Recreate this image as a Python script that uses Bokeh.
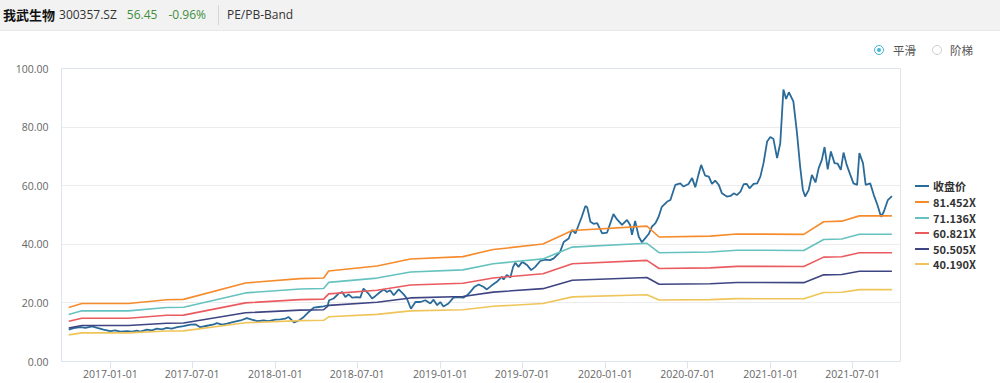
import pandas as pd
from bokeh.plotting import figure
from bokeh.models import (Div, FixedTicker, DatetimeTickFormatter, PrintfTickFormatter, Range1d)
from bokeh.layouts import column, row
from bokeh.embed import file_html
from bokeh.resources import INLINE

# ---------------- data ----------------
close_dates = [
    "2016-10-01", "2016-10-12", "2016-10-27", "2016-11-07", "2016-11-22", "2016-12-03", "2016-12-17",
    "2017-01-01", "2017-01-12", "2017-01-23", "2017-02-07", "2017-02-18", "2017-03-01", "2017-03-08",
    "2017-03-23", "2017-04-03", "2017-04-14", "2017-04-25", "2017-05-06", "2017-05-17", "2017-05-29",
    "2017-06-12", "2017-06-27", "2017-07-08", "2017-07-19", "2017-08-03", "2017-08-18", "2017-08-25",
    "2017-09-05", "2017-09-16", "2017-10-01", "2017-10-16", "2017-10-30", "2017-11-10", "2017-11-22",
    "2017-12-06", "2017-12-17", "2018-01-01", "2018-01-12", "2018-01-23", "2018-01-30", "2018-02-07",
    "2018-02-12", "2018-02-22", "2018-03-05", "2018-03-16", "2018-03-27", "2018-04-07", "2018-04-18",
    "2018-04-27", "2018-04-30", "2018-05-10", "2018-05-21", "2018-05-29", "2018-06-05", "2018-06-12",
    "2018-06-20", "2018-07-01", "2018-07-08", "2018-07-15", "2018-07-26", "2018-08-03", "2018-08-10",
    "2018-08-21", "2018-08-29", "2018-09-05", "2018-09-12", "2018-09-20", "2018-10-01", "2018-10-12",
    "2018-10-19", "2018-10-28", "2018-11-07", "2018-11-18", "2018-11-29", "2018-12-10", "2018-12-17",
    "2018-12-25", "2019-01-01", "2019-01-08", "2019-01-19", "2019-01-30", "2019-02-10", "2019-02-21",
    "2019-03-01", "2019-03-08", "2019-03-17", "2019-03-27", "2019-04-07", "2019-04-14", "2019-04-25",
    "2019-05-06", "2019-05-17", "2019-05-21", "2019-05-28", "2019-06-05", "2019-06-11", "2019-06-16",
    "2019-06-23", "2019-07-01", "2019-07-12", "2019-07-21", "2019-07-30", "2019-08-10", "2019-08-21",
    "2019-09-01", "2019-09-09", "2019-09-16", "2019-09-23", "2019-10-01", "2019-10-12", "2019-10-19",
    "2019-10-27", "2019-11-03", "2019-11-10", "2019-11-18", "2019-11-22", "2019-11-29", "2019-12-06",
    "2019-12-14", "2019-12-25", "2020-01-05", "2020-01-12", "2020-01-19", "2020-01-27", "2020-02-07",
    "2020-02-18", "2020-02-25", "2020-02-29", "2020-03-07", "2020-03-15", "2020-03-22", "2020-03-29",
    "2020-04-06", "2020-04-13", "2020-04-21", "2020-04-28", "2020-05-05", "2020-05-17", "2020-05-24",
    "2020-06-04", "2020-06-15", "2020-06-22", "2020-07-03", "2020-07-11", "2020-07-18", "2020-07-25",
    "2020-07-31", "2020-08-09", "2020-08-17", "2020-08-24", "2020-08-31", "2020-09-08", "2020-09-15",
    "2020-09-26", "2020-10-04", "2020-10-11", "2020-10-18", "2020-10-26", "2020-11-02", "2020-11-09",
    "2020-11-15", "2020-11-24", "2020-12-02", "2020-12-09", "2020-12-16", "2020-12-24", "2020-12-31",
    "2021-01-07", "2021-01-15", "2021-01-22", "2021-01-29", "2021-02-04", "2021-02-10", "2021-02-20",
    "2021-02-28", "2021-03-07", "2021-03-13", "2021-03-18", "2021-03-26", "2021-04-02", "2021-04-10",
    "2021-04-17", "2021-04-24", "2021-04-30", "2021-05-07", "2021-05-14", "2021-05-22", "2021-05-29",
    "2021-06-05", "2021-06-11", "2021-06-18", "2021-06-26", "2021-07-03", "2021-07-11", "2021-07-16",
    "2021-07-24", "2021-07-30", "2021-08-09", "2021-08-17", "2021-08-25", "2021-09-02", "2021-09-08",
    "2021-09-17", "2021-09-26",
]
close_values = [
    10.9, 11.4, 11.7, 11.5, 12.0, 11.5, 10.9,
    10.4, 10.6, 10.2, 10.4, 10.2, 10.5, 10.2,
    10.9, 10.6, 11.2, 11.0, 11.5, 11.2, 11.7,
    12.1, 12.6, 12.7, 11.7, 12.2, 12.7, 13.1,
    12.6, 12.9, 13.5, 14.0, 14.8, 14.3, 13.8,
    14.0, 13.8, 14.3, 14.4, 14.6, 15.2, 14.0,
    13.3, 14.0, 15.2, 16.9, 18.4, 18.6, 18.8,
    19.2, 20.9, 21.5, 23.2, 23.7, 22.0, 22.9,
    21.8, 22.0, 21.8, 24.9, 23.2, 21.5, 22.3,
    23.7, 24.6, 23.7, 24.3, 22.6, 24.6, 22.9,
    21.5, 18.0, 20.3, 20.3, 20.9, 19.8, 21.1,
    19.2, 20.3, 18.8, 19.8, 21.8, 22.0, 21.8,
    22.6, 23.7, 25.4, 26.3, 25.4, 24.6, 26.0,
    27.2, 28.9, 28.0, 29.5, 28.7, 32.3, 33.7,
    32.3, 34.0, 32.9, 31.2, 32.3, 34.3, 34.8,
    34.6, 35.2, 36.3, 37.4, 40.8, 42.0, 44.9,
    43.7, 46.6, 49.4, 53.1, 52.6, 47.7, 47.0,
    47.2, 43.7, 44.0, 47.2, 50.3, 48.5, 46.6,
    48.3, 46.6, 43.2, 48.0, 42.6, 40.7, 42.0,
    43.5, 46.0, 47.2, 49.4, 52.8, 54.6, 55.1,
    60.3, 60.8, 59.7, 60.6, 62.6, 59.5, 63.7,
    67.1, 63.4, 63.1, 60.6, 61.7, 60.3, 57.4,
    56.3, 56.5, 57.4, 56.8, 58.0, 60.5, 60.6,
    59.1, 60.6, 60.8, 63.1, 67.7, 75.1, 76.6,
    75.9, 69.4, 74.5, 92.8, 89.6, 91.9, 88.8,
    78.0, 66.5, 58.6, 56.3, 58.6, 63.7, 61.1,
    66.0, 68.8, 73.2, 65.6, 71.7, 67.7, 67.5,
    65.4, 71.3, 67.1, 63.7, 60.8, 60.3, 71.1,
    67.7, 60.3, 60.8, 56.8, 53.4, 49.4, 51.1,
    55.1, 56.45,
]

band_dates = [
    "2016-10-01", "2016-10-30", "2017-02-10", "2017-05-06", "2017-06-12", "2017-10-27",
    "2018-02-25", "2018-04-18", "2018-04-29", "2018-08-14", "2018-10-27", "2019-02-20",
    "2019-04-28", "2019-08-16", "2019-10-20", "2020-04-02", "2020-04-29", "2020-08-20",
    "2020-10-18", "2021-03-15", "2021-04-28", "2021-06-07", "2021-07-16", "2021-09-26",
]
band_81452 = [18.40, 19.80, 19.80, 21.10, 21.20, 26.80, 28.30, 28.50, 30.90, 32.60, 35.00, 35.80,
              38.20, 40.10, 44.70, 46.20, 42.50, 42.80, 43.50, 43.40, 47.70, 47.90, 49.70, 49.70]
band_71136 = [16.07, 17.29, 17.29, 18.43, 18.51, 23.41, 24.72, 24.89, 26.99, 28.47, 30.57, 31.27,
              33.36, 35.02, 39.04, 40.35, 37.12, 37.38, 37.99, 37.90, 41.66, 41.83, 43.41, 43.41]
band_60821 = [13.74, 14.78, 14.78, 15.76, 15.83, 20.01, 21.13, 21.28, 23.07, 24.34, 26.13, 26.73,
              28.52, 29.94, 33.38, 34.50, 31.74, 31.96, 32.48, 32.41, 35.62, 35.77, 37.11, 37.11]
band_50505 = [11.41, 12.28, 12.28, 13.08, 13.15, 16.62, 17.55, 17.67, 19.16, 20.21, 21.70, 22.20,
              23.69, 24.86, 27.72, 28.65, 26.35, 26.54, 26.97, 26.91, 29.58, 29.70, 30.82, 30.82]
band_40190 = [9.08, 9.77, 9.77, 10.41, 10.46, 13.22, 13.96, 14.06, 15.25, 16.09, 17.27, 17.66,
              18.85, 19.79, 22.06, 22.80, 20.97, 21.12, 21.46, 21.41, 23.54, 23.63, 24.52, 24.52]

series_names = ["收盘价", "81.452X", "71.136X", "60.821X", "50.505X", "40.190X"]
series_colors = ["#2b6b99", "#f68b2c", "#66c2bf", "#ea5b60", "#3e4583", "#efc55a"]

x_tick_labels = ["2017-01-01", "2017-07-01", "2018-01-01", "2018-07-01", "2019-01-01",
                 "2019-07-01", "2020-01-01", "2020-07-01", "2021-01-01", "2021-07-01"]
y_ticks = [0, 20, 40, 60, 80, 100]

# ---------------- header (title bar + smoothing selector) ----------------
cn = "font-family:'Noto Sans CJK SC';"
en = "font-family:'Open Sans';font-size:12px;"
header_html = (
    '<div style="position:relative;width:1000px;height:60px;overflow:hidden;">'
    '<div style="position:absolute;left:0;top:0;width:1000px;height:31px;background:#f2f2f2;'
    'border-bottom:1px solid #e8e8e8;box-sizing:border-box;display:flex;align-items:center;'
    'padding-left:3px;white-space:nowrap;">'
    f'<span style="{cn}font-weight:bold;font-size:13px;color:#111">我武生物</span>'
    f'<span style="{en}color:#333;margin-left:4px">300357.SZ</span>'
    f'<span style="{en}color:#3d8f3d;margin-left:10px">56.45</span>'
    f'<span style="{en}color:#3d8f3d;margin-left:11px">-0.96%</span>'
    '<span style="display:inline-block;width:1px;height:20px;background:#d6d6d6;margin-left:12px"></span>'
    f'<span style="{en}color:#333;margin-left:8px">PE/PB-Band</span>'
    '</div>'
    '<div style="position:absolute;left:874px;top:45px;width:10px;height:10px;border:1px solid #45b3d3;'
    'border-radius:50%;box-sizing:border-box;"></div>'
    '<div style="position:absolute;left:877px;top:48px;width:4px;height:4px;background:#45b3d3;'
    'border-radius:50%;"></div>'
    f'<div style="position:absolute;left:893px;top:42px;{cn}font-size:11.5px;color:#555;line-height:16px;">平滑</div>'
    '<div style="position:absolute;left:932px;top:45px;width:10px;height:10px;border:1px solid #cfcfcf;'
    'border-radius:50%;box-sizing:border-box;"></div>'
    f'<div style="position:absolute;left:950px;top:42px;{cn}font-size:11.5px;color:#555;line-height:16px;">阶梯</div>'
    '</div>'
)
header = Div(text=header_html, width=1000, height=60, margin=0)

# ---------------- figure ----------------
x_start = pd.Timestamp("2016-09-15")
x_end = pd.Timestamp("2021-10-15")

p = figure(width=901, height=323, x_axis_type="datetime",
           x_range=Range1d(x_start, x_end), y_range=Range1d(0, 100),
           toolbar_location=None, output_backend="svg",
           min_border_left=61, min_border_right=1, min_border_top=8, min_border_bottom=22,
           outline_line_color="#dfe3ec", background_fill_color="white",
           border_fill_color="white", margin=0)

cd = pd.to_datetime(close_dates)
bd = pd.to_datetime(band_dates)

p.line(cd, close_values, line_color=series_colors[0], line_width=1.8)
for vals, col in zip([band_81452, band_71136, band_60821, band_50505, band_40190], series_colors[1:]):
    p.line(bd, vals, line_color=col, line_width=1.6)

axis_col = "#dde2ec"
p.xgrid.grid_line_color = None
p.ygrid.grid_line_color = "#ececec"
p.ygrid.ticker = FixedTicker(ticks=y_ticks)

ya = p.yaxis[0]
ya.ticker = FixedTicker(ticks=y_ticks)
ya.formatter = PrintfTickFormatter(format="%.2f")
ya.axis_line_color = axis_col
ya.major_tick_line_color = None
ya.minor_tick_line_color = None
ya.major_label_standoff = 7
ya.major_label_text_font = "Open Sans"
ya.major_label_text_font_size = "10.5px"
ya.major_label_text_color = "#666666"

xa = p.xaxis[0]
xa.ticker = FixedTicker(ticks=[pd.Timestamp(t).value // 10**6 for t in x_tick_labels])
xa.formatter = DatetimeTickFormatter(days="%Y-%m-%d", months="%Y-%m-%d", years="%Y-%m-%d")
xa.axis_line_color = axis_col
xa.major_tick_line_color = axis_col
xa.major_tick_out = 7
xa.major_tick_in = 0
xa.minor_tick_line_color = None
xa.major_label_standoff = 1
xa.major_label_text_font = "Open Sans"
xa.major_label_text_font_size = "10.5px"
xa.major_label_text_color = "#666666"

# ---------------- legend (right of the plot) ----------------
legend_rows = []
centers = [126, 142, 158, 173, 189, 204]
for name, col, cy in zip(series_names, series_colors, centers):
    legend_rows.append(
        f'<div style="position:absolute;left:14px;top:{cy - 1}px;width:14px;height:2px;background:{col};"></div>'
        f'<div style="position:absolute;left:32px;top:{cy - 8}px;height:16px;line-height:16px;{cn}'
        f'font-weight:bold;font-size:11px;color:#333;white-space:nowrap;">{name}</div>'
    )
legend_div = Div(text='<div style="position:relative;width:99px;height:323px;">' + "".join(legend_rows) + '</div>',
                 width=99, height=323, margin=0)

layout = column(header, row(p, legend_div, spacing=0), spacing=0)
open("out.html", "w").write(file_html(layout, INLINE))
